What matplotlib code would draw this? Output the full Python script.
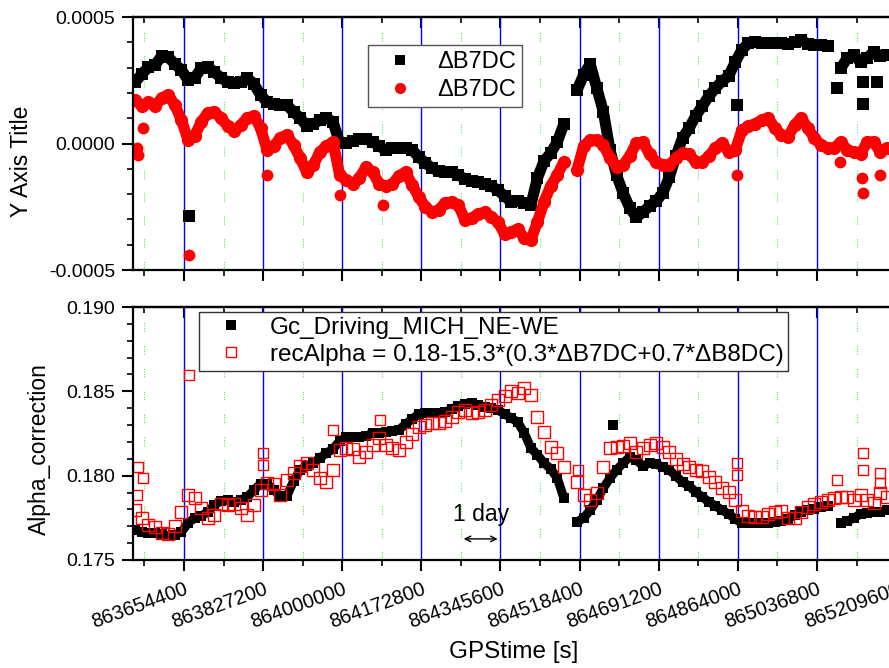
import numpy as np
import matplotlib.pyplot as plt
from matplotlib.ticker import MultipleLocator, FuncFormatter

plt.rcParams['font.family'] = ['Liberation Sans', 'DejaVu Sans']

# sampling grid of the read-off values (GPS seconds)
gps_start = 863548000
gps_step = 14400
nan = np.nan

# upper panel, units of 1e-4
b7dc_black = [2.43, 2.75, 3.02, 3.10, 3.46, 3.42, 3.14, 2.91, 2.51, 2.59,
              2.98, 3.02, 2.83, 2.59, 2.43, 2.39, 2.43, 2.59, 2.35, 1.92,
              1.64, 1.56, 1.52, 1.52, 1.25, 1.01, 0.69, 0.77, 0.93, 1.01,
              0.85, 0.02, 0.02, 0.10, 0.18, 0.18, 0.06, -0.10, -0.26, -0.18,
              -0.18, -0.18, -0.26, -0.53, -0.77, -0.97, -1.09, -1.13, -1.13, -1.25,
              -1.40, -1.48, -1.52, -1.60, -1.68, -1.84, -2.08, -2.31, -2.27, -2.35,
              -2.43, -1.36, -0.69, -0.38, 0.06, 0.77, nan, 2.11, 2.71, 3.14,
              2.19, 1.25, -0.26, -1.25, -1.96, -2.55, -2.91, -2.71, -2.47, -2.27,
              -1.96, -1.32, -0.49, 0.22, 0.61, 1.09, 1.48, 1.88, 2.19, 2.47,
              2.67, 3.22, 3.70, 3.97, 4.01, 3.97, 3.97, 3.97, 3.97, 3.93,
              4.01, 4.09, 3.93, 3.89, 3.89, 3.85, nan, 2.98, 3.38, 3.50,
              3.22, 3.38, 3.62, 3.46, 3.50]
b7dc_red = [1.72, 1.48, 1.64, 1.48, 1.80, 1.92, 1.52, 0.93, 0.14, 0.30,
            0.85, 1.21, 1.25, 1.01, 0.69, 0.49, 0.73, 1.01, 1.09, 0.61,
            -0.26, -0.10, 0.22, 0.34, -0.06, -0.57, -1.13, -0.85, -0.34, -0.10,
            0.06, -1.25, -1.44, -1.60, -1.36, -0.93, -1.13, -1.60, -1.68, -1.60,
            -1.28, -1.13, -1.64, -2.11, -2.51, -2.71, -2.63, -2.35, -2.31, -2.43,
            -3.02, -2.95, -2.79, -2.71, -2.91, -3.10, -3.58, -3.50, -3.38, -3.74,
            -3.81, -3.10, -2.31, -1.68, -1.25, -0.73, nan, -1.05, -0.10, 0.14,
            0.14, -0.06, -0.57, -0.93, -0.85, -0.49, 0.02, 0.06, -0.42, -0.73,
            -0.85, -0.85, -0.57, -0.38, -0.42, -0.73, -0.73, -0.49, -0.18, 0.02,
            -0.34, -0.26, 0.53, 0.69, 0.77, 0.93, 1.01, 0.61, 0.34, 0.26,
            0.73, 1.01, 0.61, 0.22, -0.06, -0.18, -0.18, 0.06, -0.26, -0.34,
            -0.42, 0.06, 0.06, -0.34, -0.18]
black_extra_t = [863665300, 864862100, 865137300, 865137300, 865168000, 865080500]
black_extra_v = [-2.85, 1.52, 1.56, 2.43, 2.43, 2.19]
red_extra_t = [863665300, 863551700, 863553900, 863564800, 863835600, 863995100,
               864089000, 864862100, 865087000, 865135100, 865137300, 865174400]
red_extra_v = [-4.41, -0.18, -0.45, 0.61, -1.25, -2.04,
               -2.43, -1.25, -0.73, -1.36, -1.96, -1.25]

# lower panel, units of 1e-3
gc_driving = [176.78, 176.66, 176.60, 176.60, 176.54, 176.42, 176.48, 176.66, 177.19, 177.49,
              177.61, 177.85, 178.26, 178.50, 178.56, 178.44, 178.56, 178.74, 179.15, 179.51,
              179.51, 179.15, 178.79, 178.79, 179.68, 180.34, 180.57, 180.75, 181.05, 181.34,
              181.58, 182.06, 182.29, 182.29, 182.29, 182.35, 182.53, 182.53, 182.59, 182.65,
              182.71, 183.06, 183.36, 183.66, 183.72, 183.72, 183.72, 183.77, 183.95, 184.13,
              184.25, 184.31, 184.19, 184.07, 184.01, 183.89, 183.66, 183.42, 183.18, 182.53,
              181.64, 181.23, 180.75, 180.40, 179.86, 178.68, nan, 177.25, 177.49, 177.96,
              178.56, 179.27, 179.86, 180.34, 180.75, 181.11, 180.93, 180.57, 180.75, 180.69,
              180.51, 180.34, 179.98, 179.62, 179.39, 179.03, 178.74, 178.44, 178.20, 177.96,
              177.73, 177.43, 177.19, 177.19, 177.19, 177.19, 177.19, 177.25, 177.31, 177.43,
              177.67, 177.85, 177.96, 178.02, 178.14, 178.20, nan, 177.19, 177.31, 177.49,
              177.73, 177.79, 177.85, 177.85, 177.96]
rec_alpha = [177.96, 177.49, 177.08, 176.96, 176.60, 176.54, 177.02, 177.85, 178.85, 178.68,
             178.08, 177.49, 177.67, 178.32, 178.26, 178.32, 178.08, 177.67, 178.26, 179.15,
             179.57, 179.51, 178.85, 179.74, 180.16, 180.57, 180.75, 180.34, 179.86, 179.62,
             180.34, 181.52, 181.64, 181.58, 181.11, 181.40, 181.82, 182.23, 181.82, 181.64,
             181.52, 182.00, 182.47, 182.89, 183.00, 183.12, 183.12, 183.24, 183.48, 183.77,
             183.89, 183.72, 183.77, 183.89, 184.19, 184.49, 184.72, 185.02, 184.90, 185.20,
             184.78, 183.48, 182.59, 181.70, 181.34, 180.51, nan, 179.62, 178.85, 178.56,
             178.97, 180.51, 181.64, 181.70, 181.76, 181.94, 181.40, 181.64, 181.82, 181.94,
             181.70, 181.40, 180.99, 180.69, 180.51, 180.34, 180.28, 179.92, 179.62, 179.27,
             179.03, 178.56, 177.91, 177.61, 177.55, 177.55, 177.73, 177.85, 177.91, 177.49,
             177.49, 177.85, 178.14, 178.32, 178.44, 178.56, 178.68, 178.74, 178.74, 178.56,
             178.85, 178.56, 178.38, 178.97, 178.74]
gc_extra_t = [864591300]
gc_extra_v = [183.00]
rec_extra_t = [863665300, 863553900, 863564800, 863551700, 863826900, 863826900,
               863979800, 864082400, 864862100, 864862100, 865137300, 865137300,
               865174400, 865174400, 865080500, 864514900]
rec_extra_v = [185.97, 180.51, 179.86, 178.85, 181.34, 180.63,
               182.71, 183.30, 180.75, 180.04, 181.34, 180.34,
               180.16, 179.57, 179.74, 180.34]

t = gps_start + gps_step * np.arange(len(b7dc_black))
top_black = np.array(b7dc_black) * 1e-4
top_red = np.array(b7dc_red) * 1e-4
bot_black = np.array(gc_driving) * 1e-3
bot_red = np.array(rec_alpha) * 1e-3

fig = plt.figure(figsize=(8.89, 6.68), dpi=100)
ax1 = fig.add_axes([0.1496, 0.5958, 0.874, 0.3787])
ax2 = fig.add_axes([0.1496, 0.1617, 0.874, 0.3787])

xlim = (863543000, 865240000)


def style_axes(ax):
    ax.set_xlim(*xlim)
    ax.xaxis.set_major_locator(MultipleLocator(172800))
    ax.xaxis.set_minor_locator(MultipleLocator(86400))
    ax.xaxis.set_major_formatter(FuncFormatter(lambda v, p: '%d' % round(v)))
    ax.grid(True, which='major', axis='x', color='blue', lw=1.0)
    ax.grid(True, which='minor', axis='x', color='#5fe05f', lw=0.8,
            linestyle=(0, (1, 1.2, 1, 1.2, 1, 1.2, 1, 13)))
    ax.set_axisbelow(True)
    for s in ax.spines.values():
        s.set_linewidth(1.6)
    ax.tick_params(axis='both', which='major', direction='out', length=8,
                   width=1.5, labelsize=14, top=False, right=False)
    ax.tick_params(axis='both', which='minor', direction='out', length=4.5,
                   width=1.2, top=False, right=False)
    ax.tick_params(axis='y', which='major', pad=5)
    sec = ax.secondary_xaxis('top')
    sec.xaxis.set_major_locator(MultipleLocator(172800))
    sec.xaxis.set_minor_locator(MultipleLocator(86400))
    sec.tick_params(which='major', direction='in', length=8, width=1.5,
                    labeltop=False)
    sec.tick_params(which='minor', direction='in', length=4.5, width=1.2)
    sec.spines['top'].set_linewidth(1.6)


# upper panel: dense scatter drawn as marker band
style_axes(ax1)
ax1.plot(t, top_black, '-', color='black', lw=8, solid_capstyle='butt')
ax1.plot(t, top_black, 's', color='black', ms=9, mew=0)
ax1.plot(black_extra_t, np.array(black_extra_v) * 1e-4, 's', color='black', ms=8, mew=0)
ax1.plot(t, top_red, '-', color='red', lw=8, solid_capstyle='round')
ax1.plot(t, top_red, 'o', color='red', ms=9.5, mew=0)
ax1.plot(red_extra_t, np.array(red_extra_v) * 1e-4, 'o', color='red', ms=8.5, mew=0)
ax1.set_ylim(-0.0005, 0.0005)
ax1.yaxis.set_major_locator(MultipleLocator(0.0005))
ax1.yaxis.set_minor_locator(MultipleLocator(0.0001))
ax1.yaxis.set_major_formatter(FuncFormatter(lambda v, p: '%.4f' % v if abs(v) > 1e-9 else '0.0000'))
ax1.tick_params(axis='x', labelbottom=False)
h1l, = ax1.plot([], [], 's', color='black', ms=7.5, mew=0, label='ΔB7DC')
h2l, = ax1.plot([], [], 'o', color='red', ms=8, mew=0, label='ΔB7DC')
leg1 = ax1.legend(handles=[h1l, h2l], loc='upper left', bbox_to_anchor=(0.302, 0.889),
                  borderaxespad=0, fontsize=17, numpoints=1, handlelength=2.2,
                  handletextpad=0.5, borderpad=0.25, labelspacing=0.25,
                  fancybox=False, framealpha=1, edgecolor='#555555')
leg1.get_frame().set_linewidth(1.0)

# lower panel
style_axes(ax2)
ax2.plot(t, bot_black, '-', color='black', lw=6.5, solid_capstyle='butt')
ax2.plot(t, bot_black, 's', color='black', ms=7.5, mew=0)
ax2.plot(gc_extra_t, np.array(gc_extra_v) * 1e-3, 's', color='black', ms=6.5, mew=0)
ax2.plot(t, bot_red, 's', mfc='none', mec='red', ms=8.3, mew=1.0)
ax2.plot(rec_extra_t, np.array(rec_extra_v) * 1e-3, 's', mfc='none', mec='red',
         ms=7, mew=1.0)
ax2.set_ylim(0.175, 0.190)
ax2.yaxis.set_major_locator(MultipleLocator(0.005))
ax2.yaxis.set_minor_locator(MultipleLocator(0.001))
ax2.yaxis.set_major_formatter(FuncFormatter(lambda v, p: '%.3f' % v))
ax2.tick_params(axis='x', which='major', labelsize=14.5, pad=6)
for lab in ax2.get_xticklabels():
    lab.set_rotation(20)
    lab.set_ha('right')
    lab.set_rotation_mode('anchor')
g1l, = ax2.plot([], [], 's', color='black', ms=6.5, mew=0, label='Gc_Driving_MICH_NE-WE')
g2l, = ax2.plot([], [], 's', mfc='none', mec='red', ms=7, mew=1.0,
                label='recAlpha = 0.18-15.3*(0.3*ΔB7DC+0.7*ΔB8DC)')
leg2 = ax2.legend(handles=[g1l, g2l], loc='upper left', bbox_to_anchor=(0.085, 0.980),
                  borderaxespad=0, fontsize=17.5, numpoints=1, handlelength=2.2,
                  handletextpad=0.5, borderpad=0.2, labelspacing=0.2,
                  fancybox=False, framealpha=1, edgecolor='#333333')
leg2.get_frame().set_linewidth(1.0)

# one-day marker
ax2.annotate('', xy=(864345600, 0.17625), xytext=(864259200, 0.17625),
             arrowprops=dict(arrowstyle='<->', color='black', lw=1.0))
ax2.text(864302400, 0.1777, '1 day', ha='center', va='center', fontsize=16.5)

fig.text(22 / 889, 1 - 161 / 668, 'Y Axis Title', rotation=90, ha='center',
         va='center', fontsize=16.5)
fig.text(39 / 889, 1 - 449 / 668, 'Alpha_correction', rotation=90, ha='center',
         va='center', fontsize=16.5)
fig.text(514 / 889, 1 - 652 / 668, 'GPStime [s]', ha='center', va='center',
         fontsize=17.5)

fig.savefig('out.png', dpi=100)
